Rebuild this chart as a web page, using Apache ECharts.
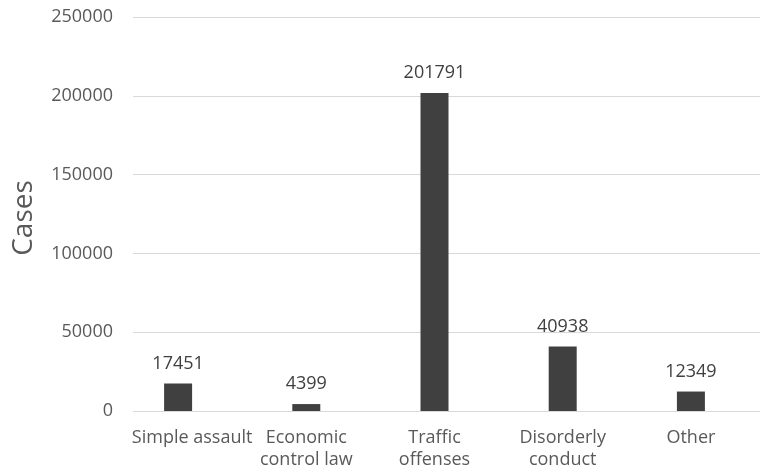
<!DOCTYPE html>
<html>
<head>
<meta charset="utf-8">
<script src="https://cdn.jsdelivr.net/npm/echarts@6/dist/echarts.min.js"></script>
<style>
  html, body { margin: 0; padding: 0; background: #ffffff; }
  #chart { width: 763px; height: 474px; }
</style>
</head>
<body>
<div id="chart"></div>
<script>
// Offence categories and case counts
const categories = ['Simple assault', 'Economic\ncontrol law', 'Traffic\noffenses', 'Disorderly\nconduct', 'Other'];
const cases = [17451, 4399, 201791, 40938, 12349];
const yTicks = [0, 50000, 100000, 150000, 200000, 250000];

const textColor = '#595959';
const fontFamily = '"Open Sans", "Noto Sans", sans-serif';

const chart = echarts.init(document.getElementById('chart'), null, { renderer: 'canvas' });

chart.setOption({
  animation: false,
  backgroundColor: '#ffffff',
  grid: [
    // gridlines and value labels
    { left: 133, right: 3, top: 17, bottom: 63, outerBoundsMode: 'none' },
    // bars and category labels
    { left: 114, right: 8, top: 17, bottom: 63, outerBoundsMode: 'none' }
  ],
  xAxis: [
    { gridIndex: 0, type: 'category', data: categories, show: false },
    {
      gridIndex: 1, type: 'category', data: categories,
      axisLine: { show: false }, axisTick: { show: false },
      axisLabel: {
        interval: 0, margin: 16, color: textColor, fontFamily: fontFamily,
        fontSize: 18, lineHeight: 22,
        formatter: function (v, i) { return i === 0 ? '{first|' + v + '}' : v; },
        rich: { first: { padding: [0, 0, 0, 28], color: textColor, fontFamily: fontFamily, fontSize: 18, lineHeight: 22 } }
      }
    }
  ],
  yAxis: [
    {
      gridIndex: 0, type: 'value', min: yTicks[0], max: yTicks[yTicks.length - 1], interval: 50000,
      name: 'Cases', nameLocation: 'middle', nameRotate: 90, nameGap: 95,
      nameTextStyle: { color: textColor, fontFamily: fontFamily, fontSize: 28, padding: [0, 8, 0, 0] },
      axisLine: { show: false }, axisTick: { show: false },
      axisLabel: {
        margin: 20, color: textColor, fontFamily: fontFamily, fontSize: 18,
        formatter: function (v) { return String(v); }
      },
      splitLine: { lineStyle: { color: '#d9d9d9', width: 1 } }
    },
    {
      gridIndex: 1, type: 'value', min: yTicks[0], max: yTicks[yTicks.length - 1], interval: 50000,
      show: false, splitLine: { show: false }
    }
  ],
  series: [{
    type: 'bar',
    xAxisIndex: 1, yAxisIndex: 1,
    data: cases,
    barWidth: 28,
    itemStyle: { color: '#404040' },
    label: {
      show: true, position: 'top', distance: 11,
      color: '#404040', fontFamily: fontFamily, fontSize: 18
    }
  }]
});
</script>
</body>
</html>
